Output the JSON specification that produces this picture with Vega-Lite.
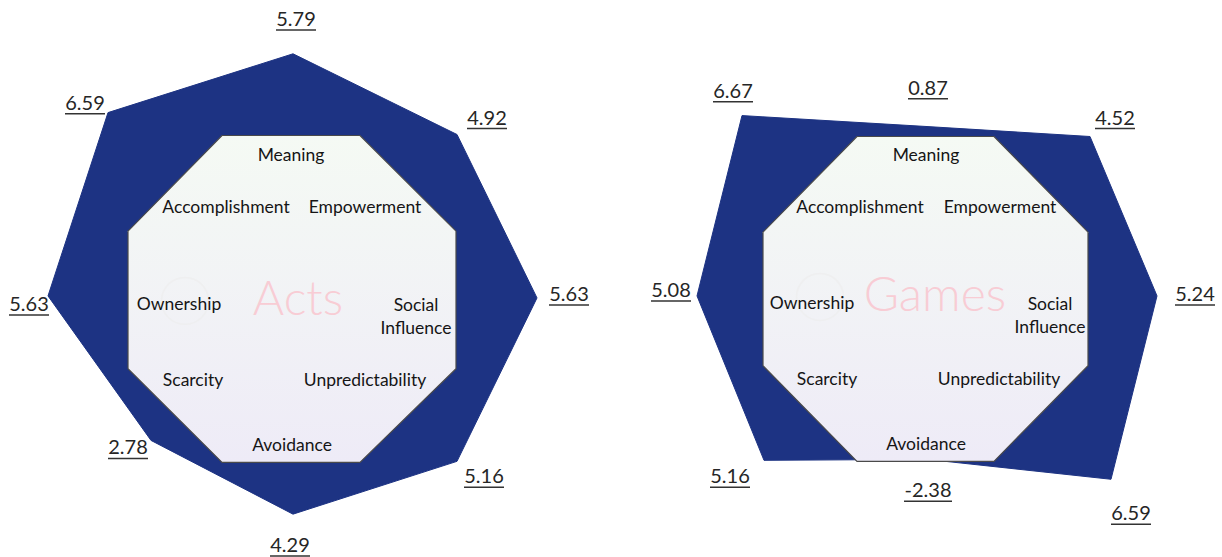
{
  "$schema": "https://vega.github.io/schema/vega-lite/v6.json",
  "width": 1222,
  "height": 557,
  "autosize": {"type": "fit", "contains": "padding"},
  "padding": 0,
  "background": "white",
  "config": {"view": {"stroke": null}},
  "datasets": {
    "shapes": [
      {"p": "Acts", "k": "blue", "i": 0, "x": 293, "y": 54},
      {"p": "Acts", "k": "blue", "i": 1, "x": 457, "y": 135},
      {"p": "Acts", "k": "blue", "i": 2, "x": 537, "y": 299},
      {"p": "Acts", "k": "blue", "i": 3, "x": 457, "y": 463},
      {"p": "Acts", "k": "blue", "i": 4, "x": 293, "y": 516},
      {"p": "Acts", "k": "blue", "i": 5, "x": 151, "y": 442},
      {"p": "Acts", "k": "blue", "i": 6, "x": 48, "y": 297},
      {"p": "Acts", "k": "blue", "i": 7, "x": 108, "y": 113},
      {"p": "Games", "k": "blue", "i": 0, "x": 742, "y": 116},
      {"p": "Games", "k": "blue", "i": 1, "x": 927, "y": 127},
      {"p": "Games", "k": "blue", "i": 2, "x": 1090, "y": 137},
      {"p": "Games", "k": "blue", "i": 3, "x": 1157, "y": 297},
      {"p": "Games", "k": "blue", "i": 4, "x": 1111, "y": 481},
      {"p": "Games", "k": "blue", "i": 5, "x": 927, "y": 461},
      {"p": "Games", "k": "blue", "i": 6, "x": 764, "y": 462},
      {"p": "Games", "k": "blue", "i": 7, "x": 697, "y": 297},
      {"p": "Acts", "k": "oct", "i": 0, "x": 222, "y": 136},
      {"p": "Acts", "k": "oct", "i": 1, "x": 360, "y": 136},
      {"p": "Acts", "k": "oct", "i": 2, "x": 456, "y": 232},
      {"p": "Acts", "k": "oct", "i": 3, "x": 456, "y": 370},
      {"p": "Acts", "k": "oct", "i": 4, "x": 360, "y": 464},
      {"p": "Acts", "k": "oct", "i": 5, "x": 222, "y": 464},
      {"p": "Acts", "k": "oct", "i": 6, "x": 128, "y": 370},
      {"p": "Acts", "k": "oct", "i": 7, "x": 128, "y": 232},
      {"p": "Games", "k": "oct", "i": 0, "x": 857, "y": 137},
      {"p": "Games", "k": "oct", "i": 1, "x": 994, "y": 137},
      {"p": "Games", "k": "oct", "i": 2, "x": 1088, "y": 233},
      {"p": "Games", "k": "oct", "i": 3, "x": 1088, "y": 367},
      {"p": "Games", "k": "oct", "i": 4, "x": 994, "y": 463},
      {"p": "Games", "k": "oct", "i": 5, "x": 857, "y": 463},
      {"p": "Games", "k": "oct", "i": 6, "x": 763, "y": 367},
      {"p": "Games", "k": "oct", "i": 7, "x": 763, "y": 233}
    ],
    "drives": [
      {"p": "Acts", "t": "Meaning", "x": 291, "y": 157},
      {"p": "Acts", "t": "Accomplishment", "x": 226, "y": 209},
      {"p": "Acts", "t": "Empowerment", "x": 365, "y": 209},
      {"p": "Acts", "t": "Ownership", "x": 179, "y": 306},
      {"p": "Acts", "t": "Social\nInfluence", "x": 416, "y": 307},
      {"p": "Acts", "t": "Scarcity", "x": 193, "y": 382},
      {"p": "Acts", "t": "Unpredictability", "x": 365, "y": 382},
      {"p": "Acts", "t": "Avoidance", "x": 292, "y": 448},
      {"p": "Games", "t": "Meaning", "x": 926, "y": 157},
      {"p": "Games", "t": "Accomplishment", "x": 860, "y": 209},
      {"p": "Games", "t": "Empowerment", "x": 1000, "y": 209},
      {"p": "Games", "t": "Ownership", "x": 812, "y": 305},
      {"p": "Games", "t": "Social\nInfluence", "x": 1050, "y": 306},
      {"p": "Games", "t": "Scarcity", "x": 827, "y": 381},
      {"p": "Games", "t": "Unpredictability", "x": 999, "y": 381},
      {"p": "Games", "t": "Avoidance", "x": 926, "y": 447}
    ],
    "titles": [
      {"p": "Acts", "x": 298, "y": 302, "lx": 185},
      {"p": "Games", "x": 935, "y": 298, "lx": 820}
    ],
    "scores": [
      {"p": "Acts", "drive": "Meaning", "v": "5.79", "x": 296, "y": 20},
      {"p": "Acts", "drive": "Empowerment", "v": "4.92", "x": 487, "y": 119},
      {"p": "Acts", "drive": "Social Influence", "v": "5.63", "x": 569, "y": 296},
      {"p": "Acts", "drive": "Unpredictability", "v": "5.16", "x": 484, "y": 479},
      {"p": "Acts", "drive": "Avoidance", "v": "4.29", "x": 290, "y": 548},
      {"p": "Acts", "drive": "Scarcity", "v": "2.78", "x": 128, "y": 450},
      {"p": "Acts", "drive": "Ownership", "v": "5.63", "x": 29, "y": 306},
      {"p": "Acts", "drive": "Accomplishment", "v": "6.59", "x": 85, "y": 104},
      {"p": "Games", "drive": "Meaning", "v": "0.87", "x": 928, "y": 89},
      {"p": "Games", "drive": "Empowerment", "v": "4.52", "x": 1115, "y": 119},
      {"p": "Games", "drive": "Social Influence", "v": "5.24", "x": 1195, "y": 296},
      {"p": "Games", "drive": "Unpredictability", "v": "6.59", "x": 1131, "y": 516},
      {"p": "Games", "drive": "Avoidance", "v": "-2.38", "x": 928, "y": 493},
      {"p": "Games", "drive": "Scarcity", "v": "5.16", "x": 730, "y": 479},
      {"p": "Games", "drive": "Ownership", "v": "5.08", "x": 671, "y": 292},
      {"p": "Games", "drive": "Accomplishment", "v": "6.67", "x": 733, "y": 92}
    ]
  },
  "encoding": {
    "x": {"field": "x", "type": "quantitative", "scale": {"domain": [0, 1222], "nice": false, "zero": false}, "axis": null},
    "y": {"field": "y", "type": "quantitative", "scale": {"domain": [0, 557], "nice": false, "zero": false, "reverse": true}, "axis": null}
  },
  "layer": [
    {
      "data": {"name": "shapes"},
      "transform": [{"filter": "datum.k === 'blue'"}],
      "mark": {"type": "line", "interpolate": "linear-closed", "fill": "#1d3383", "stroke": "#1d3383", "strokeWidth": 1, "fillOpacity": 1},
      "encoding": {"detail": {"field": "p"}, "order": {"field": "i", "type": "quantitative"}}
    },
    {
      "data": {"name": "shapes"},
      "transform": [{"filter": "datum.k === 'oct'"}],
      "mark": {
        "type": "line", "interpolate": "linear-closed", "stroke": "#4a4a4a", "strokeWidth": 1.2,
        "fill": {"gradient": "linear", "x1": 0, "y1": 0, "x2": 0, "y2": 1, "stops": [{"offset": 0, "color": "#f5faf4"}, {"offset": 1, "color": "#eeebf7"}]}
      },
      "encoding": {"detail": {"field": "p"}, "order": {"field": "i", "type": "quantitative"}}
    },
    {
      "data": {"name": "titles"},
      "mark": {"type": "point", "shape": "circle", "size": 2200, "filled": false, "stroke": "#eeeeee", "strokeWidth": 1.5},
      "encoding": {"x": {"field": "lx", "type": "quantitative"}}
    },
    {
      "data": {"name": "titles"},
      "mark": {"type": "text", "font": "Lato", "fontWeight": 300, "fontSize": 48, "color": "#f8ccd4", "align": "center", "baseline": "middle"},
      "encoding": {"text": {"field": "p"}}
    },
    {
      "data": {"name": "drives"},
      "mark": {"type": "text", "font": "Lato", "fontSize": 17.5, "color": "#151515", "align": "center", "baseline": "middle", "lineBreak": "\n", "lineHeight": 23},
      "encoding": {"text": {"field": "t"}}
    },
    {
      "data": {"name": "scores"},
      "mark": {"type": "text", "font": "Lato", "fontSize": 20, "color": "#262626", "align": "center", "baseline": "middle"},
      "encoding": {"text": {"field": "v"}}
    },
    {
      "data": {"name": "scores"},
      "transform": [{"filter": "indexof(datum.v, '-') < 0"}],
      "mark": {"type": "rule", "color": "#333333", "strokeWidth": 1.5, "xOffset": -20, "x2Offset": 20, "yOffset": 10},
      "encoding": {"x2": {"field": "x"}}
    },
    {
      "data": {"name": "scores"},
      "transform": [{"filter": "indexof(datum.v, '-') >= 0"}],
      "mark": {"type": "rule", "color": "#333333", "strokeWidth": 1.5, "xOffset": -24, "x2Offset": 24, "yOffset": 10},
      "encoding": {"x2": {"field": "x"}}
    }
  ]
}
